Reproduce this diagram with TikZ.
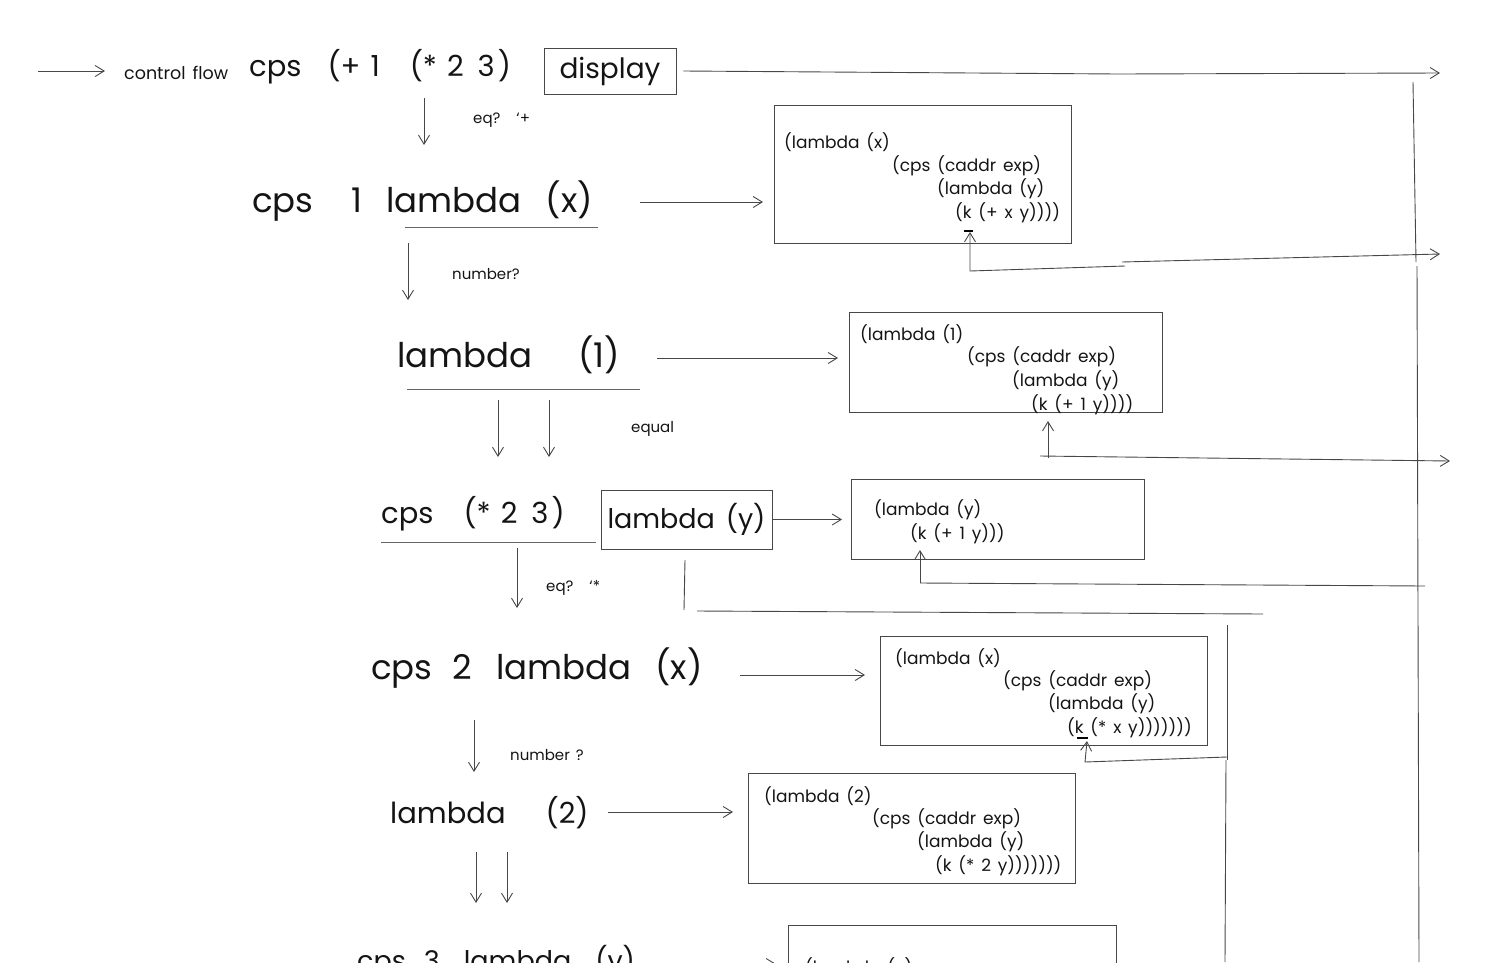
\documentclass[tikz,border=0pt]{standalone}
\usepackage{fontspec}
\setmainfont{Poppins}
\newfontfamily\widefont{Poppins}[WordSpace=2.3]
\newfontfamily\codefont{Poppins}[WordSpace=1.5]
\usetikzlibrary{arrows.meta}
\begin{document}
\begin{tikzpicture}[x=1pt,y=-1pt,
  ink/.style={draw=black!72, line width=0.9pt},
  flow/.style={ink, -{Straight Barb[length=9pt,width=11pt]}},
  kbar/.style={draw=black, line width=2.6pt},
  txt/.style={anchor=west, inner sep=0pt, text=black!92},
  bigA/.style={txt, font=\widefont\fontsize{34}{40}\selectfont},
  bigB/.style={txt, font=\widefont\fontsize{29}{34}\selectfont},
  bigC/.style={txt, font=\widefont\fontsize{29}{34}\selectfont},
  bigD/.style={txt, font=\widefont\fontsize{27}{32}\selectfont},
  lbl/.style={txt, font=\codefont\fontsize{15}{17}\selectfont},
  code/.style={txt, font=\codefont\fontsize{17}{20}\selectfont},
  codebox/.style={draw=black!72, line width=0.9pt, rectangle, anchor=north west, inner sep=0pt},
  wordbox/.style={draw=black!72, line width=0.9pt, rectangle, inner sep=0pt, text=black!92, font=\widefont\fontsize{27}{32}\selectfont}
]
\useasboundingbox (0,0) rectangle (1505,962);
\clip (0,0) rectangle (1505,962);

% ---------- top line ----------
\coordinate (s0) at (38,71);
\coordinate (s1) at (105,71);
\draw[flow] (s0) -- (s1);
\node[lbl, font=\codefont\fontsize{17.5}{19}\selectfont] (cf) at (124,73) {control flow};
\node[bigD, font=\widefont\fontsize{29}{34}\selectfont] (top) at (249,67) {cps\hspace{26pt}(+\hspace{10pt}1\hspace{30pt}(*\hspace{10pt}2\hspace{14pt}3\hspace{3pt})};
\node[wordbox, font=\widefont\fontsize{28}{32}\selectfont, minimum width=132pt, minimum height=46pt] (disp) at (610,71) {display};

\coordinate (r1) at (1118,74);
\coordinate (r1e) at (1440,73);
\draw[flow] ([xshift=7pt]disp.east) -- (r1) -- (r1e);
\draw[ink] (1413,82) -- (1416,262);
\draw[ink] (1417,266) -- (1419,962);

% ---------- level 1 ----------
\draw[flow] (424,98) -- (424,145);
\node[lbl] (eq1) at (473,120) {eq?\hspace{16pt}‘+};
\node[bigA] (L1) at (252,201) {cps\hspace{38pt}1\hspace{24pt}lambda\hspace{24pt}(x)};
\draw[ink, black!60] (405,227) -- (598,227);

\node[codebox, minimum width=297pt, minimum height=138pt] (b1) at (774,105) {};
\node[code] (b1a) at (784,142) {(lambda (x)};
\node[code] (b1b) at (892,166) {(cps (caddr exp)};
\node[code] (b1c) at (937,189) {(lambda (y)};
\node[code] (b1d) at (955,213) {(k (+ x y))))};
\draw[flow, shorten >=11pt] (640,202) -- (b1.west |- 640,202);
\draw[kbar] (964,231) -- (973,231);
\draw[flow] (1125,266) -- (970,271) -- (970,232);
\draw[flow] (1122,262) -- (1440,254);

% ---------- level 2 ----------
\draw[flow] (408,243) -- (408,300);
\node[lbl] (num1) at (452,274) {number?};
\node[bigA] (L2) at (397,355) {lambda\hspace{46pt}(1)};
\draw[ink, black!60] (407,389) -- (640,389);

\node[codebox, minimum width=313pt, minimum height=100pt] (b2) at (849,312) {};
\node[code] (b2a) at (860,334) {(lambda (1)};
\node[code] (b2b) at (967,357) {(cps (caddr exp)};
\node[code] (b2c) at (1012,381) {(lambda (y)};
\node[code] (b2d) at (1031,405) {(k (+ 1 y))))};
\draw[flow, shorten >=11pt] (657,358) -- (b2.west |- 657,358);
\draw[flow] (1048,458) -- (1048,421);
\draw[flow] (1040,456) -- (1450,461);

% ---------- level 3 ----------
\draw[flow] (498,400) -- (498,457);
\draw[flow] (549,400) -- (549,457);
\node[lbl] (eql) at (631,429) {equal};
\node[bigB] (L3) at (381,514) {cps\hspace{30pt}(*\hspace{10pt}2\hspace{14pt}3\hspace{3pt})};
\draw[ink, black!60] (381,542) -- (596,542);
\node[wordbox, minimum width=171pt, minimum height=59pt] (lamy) at (686.5,519.5) {lambda (y)};

\node[codebox, minimum width=293pt, minimum height=80pt] (b3) at (851,479) {};
\node[code] (b3a) at (874,510) {(lambda (y)};
\node[code] (b3b) at (910,534) {(k (+ 1 y)))};
\draw[flow, shorten >=9pt] (lamy.east) -- (b3.west |- lamy.east);
\draw[flow] (920,583) -- (920,550);
\draw[ink] (920,583) -- (1425,586);

% ---------- level 4 ----------
\draw[flow] (517,548) -- (517,608);
\node[lbl] (eq2) at (546,588) {eq?\hspace{16pt}‘*};
\draw[ink] (685,560) -- (684,610);
\draw[ink] (697,611) -- (1263,614);
\node[bigA] (L4) at (371,668) {cps\hspace{20pt}2\hspace{24pt}lambda\hspace{24pt}(x)};

\node[codebox, minimum width=327pt, minimum height=109pt] (b4) at (880,636) {};
\node[code] (b4a) at (895,658) {(lambda (x)};
\node[code] (b4b) at (1003,681) {(cps (caddr exp)};
\node[code] (b4c) at (1048,704) {(lambda (y)};
\node[code] (b4d) at (1067,728) {(k (* x y)))))))};
\draw[flow, shorten >=15pt] (740,675) -- (b4.west |- 740,675);
\draw[kbar] (1077,738) -- (1088,738);
\draw[ink] (1227,625) -- (1227,760);
\draw[ink] (1226,760) -- (1225,962);
\draw[flow] (1227,757) -- (1085,762) -- (1087,741);

% ---------- level 5 ----------
\draw[flow] (474,720) -- (474,772);
\node[lbl] (num2) at (510,755) {number ?};
\node[bigC] (L5) at (390,813) {lambda\hspace{40pt}(2)};

\node[codebox, minimum width=327pt, minimum height=110pt] (b5) at (748,773) {};
\node[code] (b5a) at (764,796) {(lambda (2)};
\node[code] (b5b) at (872,819) {(cps (caddr exp)};
\node[code] (b5c) at (917,842) {(lambda (y)};
\node[code] (b5d) at (935,866) {(k (* 2 y)))))))};
\draw[flow, shorten >=15pt] (608,812) -- (b5.west |- 608,812);

% ---------- level 6 (cut off by the page edge, as in the reference) ----------
\draw[flow] (476,852) -- (476,903);
\draw[flow] (507,852) -- (507,903);
\node[bigD] (L6) at (357,961) {cps\hspace{18pt}3\hspace{24pt}lambda\hspace{24pt}(y)};
\node[codebox, minimum width=328pt, minimum height=90pt] (b6) at (788,925) {};
\node[code] (b6a) at (805,968) {(lambda (y)};
\draw[flow, shorten >=12pt] (650,964) -- (b6.west |- 650,964);
\end{tikzpicture}
\end{document}
